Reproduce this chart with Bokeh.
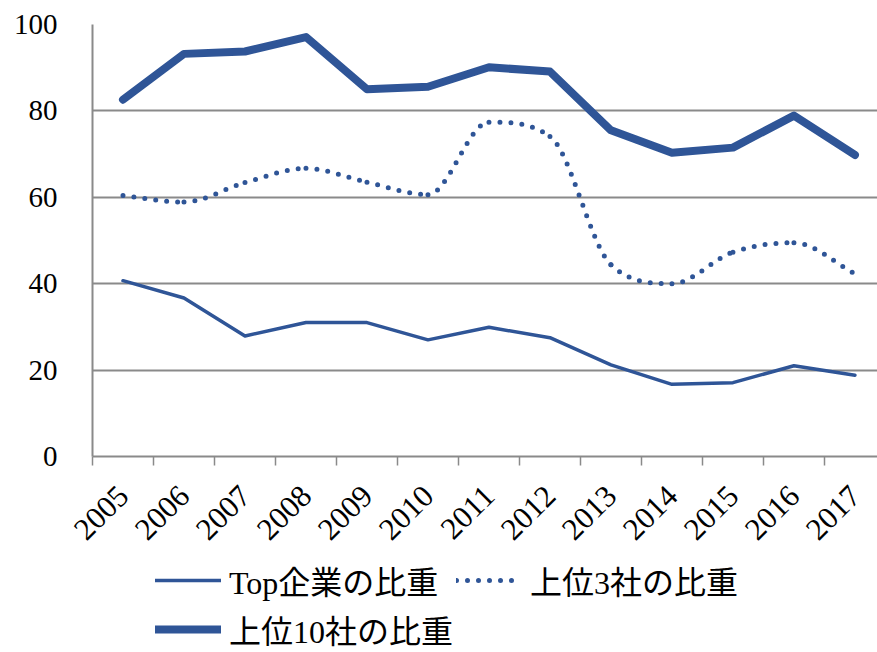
import math
from bokeh.plotting import figure
from bokeh.layouts import column
from bokeh.models import (Range1d, FixedTicker, Legend, LegendItem, ColumnDataSource)
from bokeh.embed import file_html
from bokeh.resources import INLINE

years = ["2005", "2006", "2007", "2008", "2009", "2010", "2011",
         "2012", "2013", "2014", "2015", "2016", "2017"]
top1 = [40.7, 36.7, 27.9, 31.0, 31.0, 27.0, 29.9, 27.5, 21.2, 16.7, 17.1, 21.0, 18.8]
top3 = [60.4, 58.9, 63.4, 66.7, 63.5, 60.6, 77.4, 74.1, 44.4, 40.0, 47.3, 49.5, 42.3]
top10 = [82.6, 93.2, 93.75, 97.1, 85.0, 85.6, 90.1, 89.1, 75.5, 70.3, 71.5, 78.9, 69.8]
y_ticks = [0, 20, 40, 60, 80, 100]
names = ["Top企業の比重", "上位3社の比重", "上位10社の比重"]

BLUE = "#2F5597"
GRAY = "#8a8a8a"
SERIF = "Liberation Serif"
MIXED = "'Liberation Serif', 'Noto Sans CJK JP'"

n = len(years)
xs = [i + 0.5 for i in range(n)]

p = figure(frame_width=785, frame_height=432,
           min_border_left=92, min_border_top=24, min_border_right=0, min_border_bottom=96,
           x_range=Range1d(0, 12.87), y_range=Range1d(0, 100),
           output_backend="svg", toolbar_location=None)
p.outline_line_color = None
p.background_fill_color = "white"
p.border_fill_color = "white"

# x axis
xa = p.xaxis[0]
xa.ticker = FixedTicker(ticks=xs, minor_ticks=list(range(n + 1)))
xa.major_label_overrides = {x: y for x, y in zip(xs, years)}
xa.major_label_orientation = math.pi / 4
xa.major_tick_out = 0
xa.major_tick_in = 0
xa.minor_tick_out = 9
xa.minor_tick_in = 0
xa.minor_tick_line_color = GRAY
xa.minor_tick_line_width = 1.5
xa.axis_line_color = GRAY
xa.axis_line_width = 2
xa.major_label_text_font = SERIF
xa.major_label_text_font_size = "31px"
xa.major_label_text_color = "black"
xa.major_label_standoff = 25

# y axis
ya = p.yaxis[0]
ya.ticker = FixedTicker(ticks=y_ticks)
ya.major_tick_out = 0
ya.major_tick_in = 0
ya.minor_tick_out = 0
ya.minor_tick_in = 0
ya.axis_line_color = GRAY
ya.axis_line_width = 2
ya.major_label_text_font = SERIF
ya.major_label_text_font_size = "29px"
ya.major_label_text_color = "black"
ya.major_label_standoff = 35

p.xgrid.grid_line_color = None
p.ygrid.ticker = FixedTicker(ticks=y_ticks)
p.ygrid.grid_line_color = GRAY
p.ygrid.grid_line_width = 2

# Top company
p.line(xs, top1, line_color=BLUE, line_width=3.5, line_join="round", line_cap="round")

# Top 3: smoothed curve (monotone cubic through the data points, as bezier segments)
d = [(top3[k + 1] - top3[k]) / (xs[k + 1] - xs[k]) for k in range(n - 1)]
m = [d[0]] + [0.0] * (n - 2) + [d[-1]]
for k in range(1, n - 1):
    if d[k - 1] * d[k] > 0:
        m[k] = (d[k - 1] + d[k]) / 2
for k in range(n - 1):
    if d[k] == 0:
        m[k] = m[k + 1] = 0
        continue
    a, b = m[k] / d[k], m[k + 1] / d[k]
    s = a * a + b * b
    if s > 9:
        t = 3 / math.sqrt(s)
        m[k], m[k + 1] = t * a * d[k], t * b * d[k]
x0, y0, x1, y1, cx0, cy0, cx1, cy1 = [], [], [], [], [], [], [], []
for k in range(n - 1):
    h = xs[k + 1] - xs[k]
    x0.append(xs[k]); y0.append(top3[k])
    x1.append(xs[k + 1]); y1.append(top3[k + 1])
    cx0.append(xs[k] + h / 3); cy0.append(top3[k] + m[k] * h / 3)
    cx1.append(xs[k + 1] - h / 3); cy1.append(top3[k + 1] - m[k + 1] * h / 3)
src = ColumnDataSource(dict(x0=x0, y0=y0, x1=x1, y1=y1, cx0=cx0, cy0=cy0, cx1=cx1, cy1=cy1))
p.bezier(x0="x0", y0="y0", x1="x1", y1="y1", cx0="cx0", cy0="cy0", cx1="cx1", cy1="cy1",
         source=src, line_color=BLUE, line_width=5, line_dash="0 11", line_cap="round")

# Top 10
p.line(xs, top10, line_color=BLUE, line_width=8, line_join="round", line_cap="round")

# Legend panel (separate strip below the chart)
q = figure(width=877, height=100, min_border=0,
           x_range=Range1d(0, 1), y_range=Range1d(0, 1),
           x_axis_type=None, y_axis_type=None,
           output_backend="svg", toolbar_location=None)
q.outline_line_color = None
q.xgrid.grid_line_color = None
q.ygrid.grid_line_color = None
l1 = q.line(xs, top1, line_color=BLUE, line_width=3.5, line_cap="round")
l3 = q.line(xs, top3, line_color=BLUE, line_width=5, line_dash="0 11", line_cap="round")
l10 = q.line(xs, top10, line_color=BLUE, line_width=8, line_cap="round")
for r in (l1, l3, l10):
    r.visible = False

legend = Legend(items=[LegendItem(label=names[0], renderers=[l1]),
                       LegendItem(label=names[1], renderers=[l3]),
                       LegendItem(label=names[2], renderers=[l10])],
                orientation="horizontal", ncols=2,
                location=(63, 0))
legend.label_text_font = MIXED
legend.label_text_font_size = "32px"
legend.label_text_color = "black"
legend.glyph_width = 66
legend.glyph_height = 36
legend.label_height = 36
legend.label_standoff = 8
legend.spacing = 3
legend.padding = 0
legend.margin = 0
legend.border_line_color = None
legend.background_fill_alpha = 0
q.add_layout(legend, "center")

layout = column(p, q, spacing=0)
open("out.html", "w").write(file_html(layout, INLINE))
